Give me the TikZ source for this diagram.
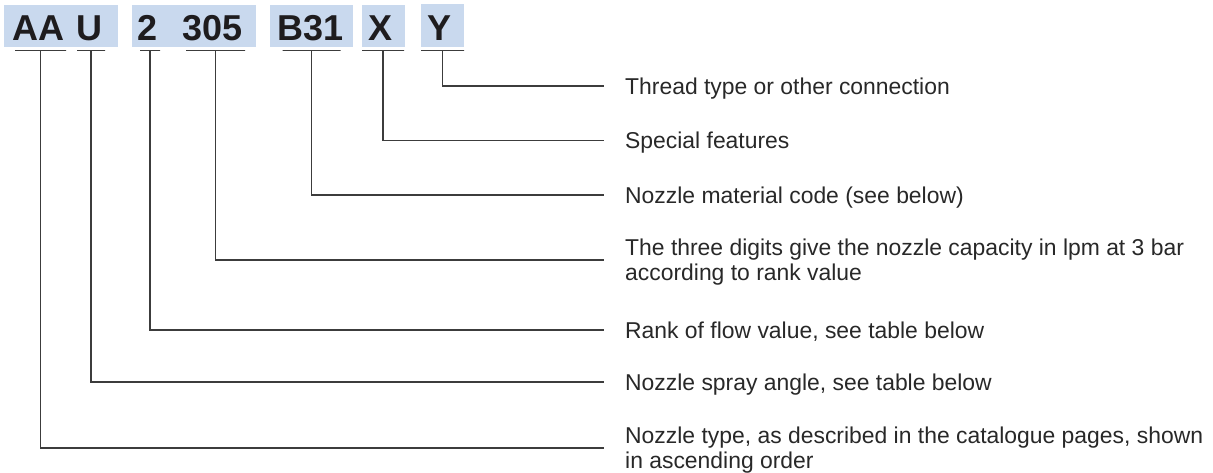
\documentclass[tikz,border=0pt]{standalone}
\usepackage{fontspec}
\setmainfont{Liberation Sans}
\definecolor{boxblue}{RGB}{201,217,238}
\definecolor{linecol}{RGB}{60,60,60}
\definecolor{desccol}{RGB}{40,40,40}
\definecolor{codecol}{RGB}{30,28,30}
\newcommand{\twoln}[2]{\vtop{\hbox{#1}\hbox{#2}}}
\tikzset{
  codebox/.style={fill=boxblue},
  codetxt/.style={inner sep=0pt, anchor=base, text=codecol,
    font=\fontsize{36}{40}\selectfont\bfseries, text height=25.8pt, text depth=0pt},
  uline/.style={draw=linecol, line width=1.2pt, inner sep=0pt, minimum height=0pt,
    text height=0pt, text depth=0pt},
  rule/.style={draw=linecol, line width=1.2pt},
  desc/.style={anchor=west, inner xsep=21pt, inner ysep=0pt, text=desccol,
    font=\fontsize{22.9}{25}\selectfont, text height=16.4pt, text depth=0pt},
  desctwo/.style={desc, text depth=25pt}
}
\begin{document}
\begin{tikzpicture}[x=1pt,y=-1pt]
\useasboundingbox (0,0) rectangle (1213,472);
% blue boxes
\fill[codebox] (4,5) rectangle (118,47);
\fill[codebox] (132,5) rectangle (256,47);
\fill[codebox] (270,5) rectangle (353,47);
\fill[codebox] (362,5) rectangle (405,47);
\fill[codebox] (421,4) rectangle (464,47);
% code letters
\node[codetxt] (cAA) at (38.5,40.7) {AA};
\node[codetxt] (cU) at (89.5,40.7) {U};
\node[codetxt] (c2) at (148,40.7) {2};
\node[codetxt] (c305) at (212.5,40.7) {305};
\node[codetxt] (cB) at (310.5,40.7) {B31};
\node[codetxt] (cX) at (381,40.7) {X};
\node[codetxt] (cY) at (440,40.7) {Y};
% underlines
\node[uline, minimum width=51pt] (uAA) at (40.5,50.7) {};
\node[uline, minimum width=28pt] (uU) at (91,50.7) {};
\node[uline, minimum width=20pt] (u2) at (150,50.7) {};
\node[uline, minimum width=59pt] (u305) at (215.5,50.7) {};
\node[uline, minimum width=58pt] (uB) at (311.5,50.7) {};
\node[uline, minimum width=42pt] (uX) at (383,50.7) {};
\node[uline, minimum width=43pt] (uY) at (442.5,50.7) {};
% descriptions
\node[desc] (tY) at (604,86) {Thread type or other connection};
\node[desc] (tX) at (604,140.5) {Special features};
\node[desc] (tB) at (604,195) {Nozzle material code (see below)};
\node[desctwo] (t305) at (604,260) {\twoln{The three digits give the nozzle capacity in lpm at 3 bar}{according to rank value}};
\node[desc] (t2) at (604,330) {Rank of flow value, see table below};
\node[desc] (tU) at (604,382) {Nozzle spray angle, see table below};
\node[desctwo] (tAA) at (604,448) {\twoln{Nozzle type, as described in the catalogue pages, shown}{in ascending order}};
% connectors
\draw[rule] (uY.south) |- (tY.west);
\draw[rule] (uX.south) |- (tX.west);
\draw[rule] (uB.south) |- (tB.west);
\draw[rule] (u305.south) |- (t305.west);
\draw[rule] (u2.south) |- (t2.west);
\draw[rule] (uU.south) |- (tU.west);
\draw[rule] (uAA.south) |- (tAA.west);
\end{tikzpicture}
\end{document}
